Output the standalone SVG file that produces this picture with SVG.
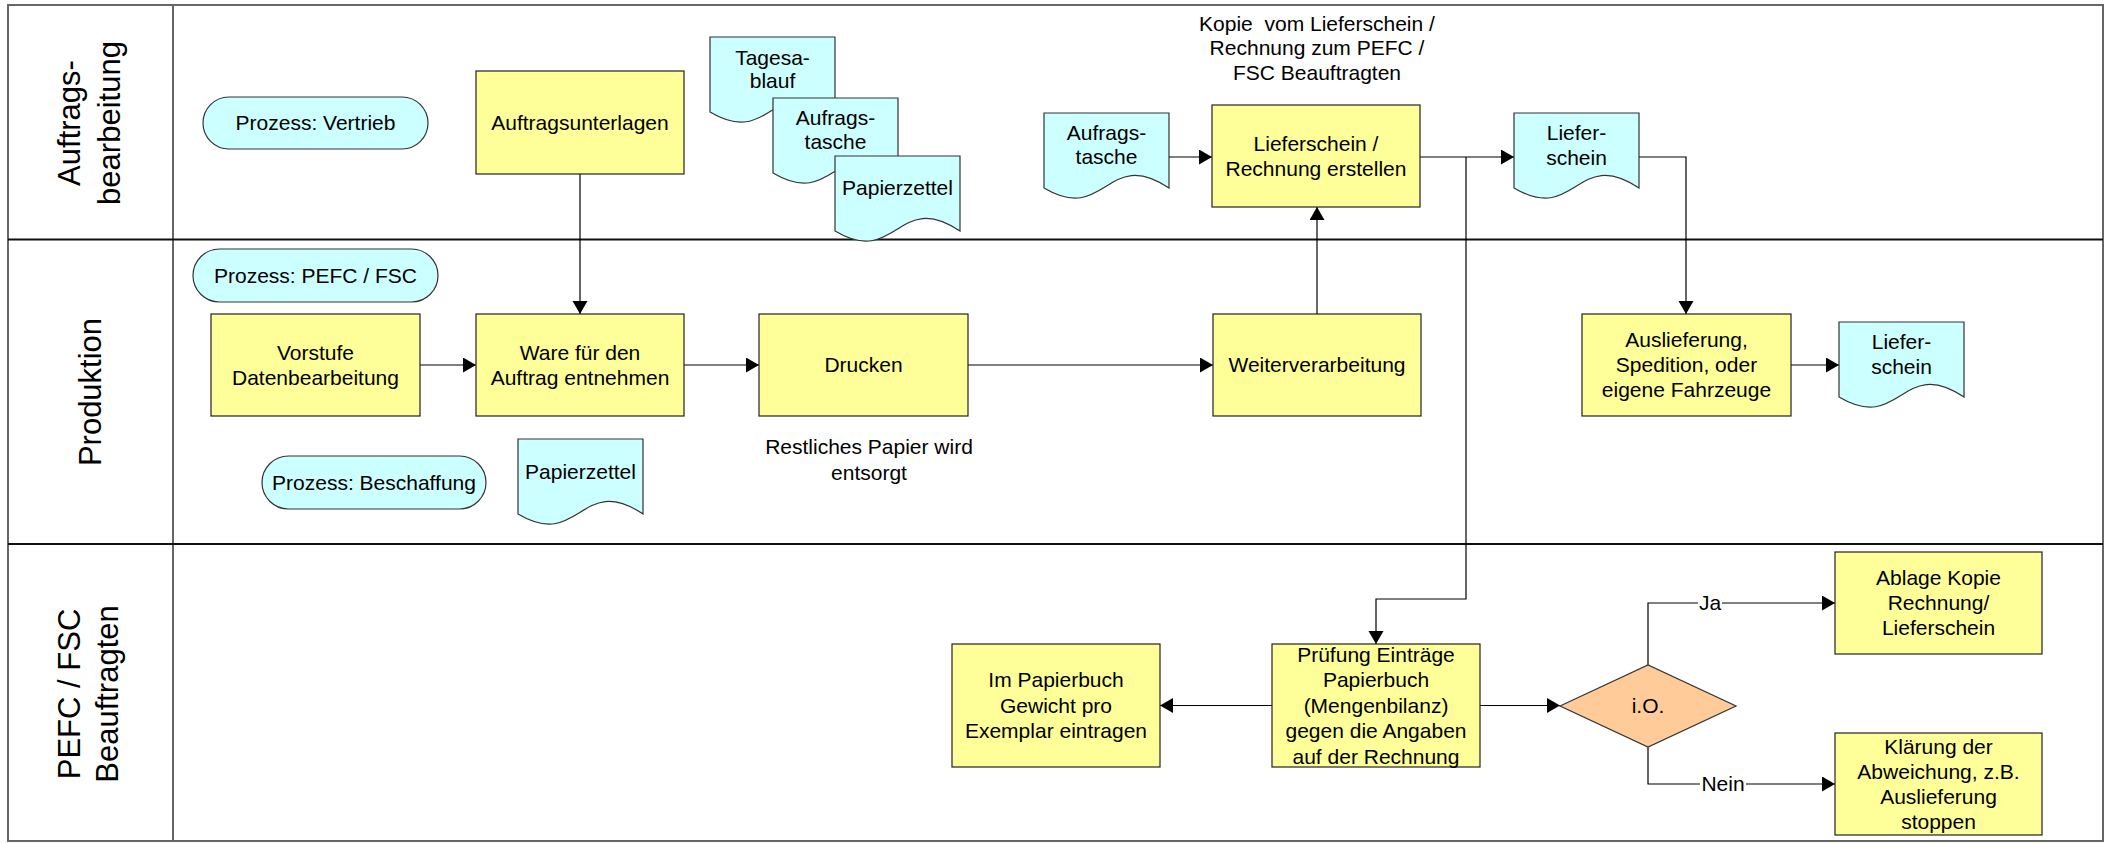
<svg xmlns="http://www.w3.org/2000/svg" width="2109" height="843" viewBox="0 0 2109 843">
<style>
text{font-family:"Liberation Sans",Arial,sans-serif;font-size:21px;fill:#000;text-anchor:middle}
.lane{font-size:31px}
.box{fill:#FFFF99;stroke:#222;stroke-width:1.2}
.cy{fill:#CCFFFF;stroke:#333;stroke-width:1.2}
.dia{fill:#FFCC99;stroke:#333;stroke-width:1.2}
.frame{fill:none;stroke:#666;stroke-width:2}
.div{stroke:#111;stroke-width:1.8}
.c{fill:none;stroke:#000;stroke-width:1.2}
.ca{fill:none;stroke:#000;stroke-width:1.2;marker-end:url(#arr)}
.pre{white-space:pre}
</style>
<defs>
<marker id="arr" markerUnits="userSpaceOnUse" markerWidth="14" markerHeight="16" refX="13" refY="7.5" orient="auto">
<path d="M0,0 L13,7.5 L0,15 Z" fill="#000"/>
</marker>
<path id="doc" d="M0,0 H125 V75 C62.5,33 62.5,112 0,75 Z"/>
</defs>
<rect width="2109" height="843" fill="#fff"/>
<g id="lanes">
<rect class="frame" x="8" y="5" width="2095" height="836"/>
<line class="frame" x1="173" y1="5" x2="173" y2="841"/>
<line class="div" x1="8" y1="239.5" x2="2103" y2="239.5"/>
<line class="div" x1="8" y1="544" x2="2103" y2="544"/>
<text class="lane" transform="translate(80,123) rotate(-90)">Auftrags-</text>
<text class="lane" transform="translate(120,123) rotate(-90)">bearbeitung</text>
<text class="lane" transform="translate(101,392) rotate(-90)">Produktion</text>
<text class="lane" transform="translate(80,694) rotate(-90)">PEFC / FSC</text>
<text class="lane" transform="translate(118,694) rotate(-90)">Beauftragten</text>
</g>
<g id="connectors">
<path class="ca" d="M580,174 V314"/>
<path class="ca" d="M420,365 H476"/>
<path class="ca" d="M684,365 H759"/>
<path class="ca" d="M968,365 H1213"/>
<path class="ca" d="M1317,314 V207"/>
<path class="ca" d="M1167,157 H1212"/>
<path class="ca" d="M1420,157 H1514"/>
<path class="ca" d="M1466,157 V599 H1376 V644"/>
<path class="ca" d="M1639,157 H1686 V314"/>
<path class="ca" d="M1791,365 H1839"/>
<path class="ca" d="M1272,705.5 H1160"/>
<path class="ca" d="M1480,705.5 H1560"/>
<path class="ca" d="M1648,665 V603 H1835"/>
<path class="ca" d="M1648,747 V784 H1835"/>
<rect x="1698" y="592" width="24" height="22" fill="#fff"/>
<text x="1710" y="610">Ja</text>
<rect x="1700" y="773" width="46" height="22" fill="#fff"/>
<text x="1723" y="791">Nein</text>
</g>
<g id="n-vertrieb"><rect class="cy" x="203" y="97" width="225" height="52" rx="26"/><text x="315.5" y="130">Prozess: Vertrieb</text></g>
<g id="n-auftragsunterlagen"><rect class="box" x="476" y="71" width="208" height="103"/><text x="580" y="130">Auftragsunterlagen</text></g>
<g id="n-tagesablauf"><use href="#doc" class="cy" x="710" y="37"/><text x="772.5" y="65">Tagesa-</text><text x="772.5" y="88">blauf</text></g>
<g id="n-auftragstasche1"><use href="#doc" class="cy" x="773" y="98"/><text x="835.5" y="125">Aufrags-</text><text x="835.5" y="149">tasche</text></g>
<g id="n-papierzettel1"><use href="#doc" class="cy" x="835" y="156"/><text x="897.5" y="195">Papierzettel</text></g>
<g id="n-kopie"><text class="pre" x="1317" y="31">Kopie  vom Lieferschein /</text><text x="1317" y="55">Rechnung zum PEFC /</text><text x="1317" y="80">FSC Beauftragten</text></g>
<g id="n-auftragstasche2"><use href="#doc" class="cy" x="1044" y="113"/><text x="1106.5" y="140">Aufrags-</text><text x="1106.5" y="164">tasche</text></g>
<g id="n-lieferschein-erstellen"><rect class="box" x="1212" y="105" width="208" height="102"/><text x="1316" y="150.5">Lieferschein /</text><text x="1316" y="175.5">Rechnung erstellen</text></g>
<g id="n-lieferschein1"><use href="#doc" class="cy" x="1514" y="113"/><text x="1576.5" y="140">Liefer-</text><text x="1576.5" y="165">schein</text></g>
<g id="n-pefc"><rect class="cy" x="193" y="249" width="245" height="53" rx="26.5"/><text x="315.5" y="283">Prozess: PEFC / FSC</text></g>
<g id="n-vorstufe"><rect class="box" x="211" y="314" width="209" height="102"/><text x="315.5" y="359.5">Vorstufe</text><text x="315.5" y="384.5">Datenbearbeitung</text></g>
<g id="n-ware"><rect class="box" x="476" y="314" width="208" height="102"/><text x="580" y="359.5">Ware für den</text><text x="580" y="384.5">Auftrag entnehmen</text></g>
<g id="n-drucken"><rect class="box" x="759" y="314" width="209" height="102"/><text x="863.5" y="372">Drucken</text></g>
<g id="n-restlich"><text x="869" y="454">Restliches Papier wird</text><text x="869" y="480">entsorgt</text></g>
<g id="n-weiter"><rect class="box" x="1213" y="314" width="208" height="102"/><text x="1317" y="372">Weiterverarbeitung</text></g>
<g id="n-beschaffung"><rect class="cy" x="262" y="456" width="224" height="53" rx="26.5"/><text x="374" y="490">Prozess: Beschaffung</text></g>
<g id="n-papierzettel2"><use href="#doc" class="cy" x="518" y="439"/><text x="580.5" y="479">Papierzettel</text></g>
<g id="n-auslieferung"><rect class="box" x="1582" y="314" width="209" height="102"/><text x="1686.5" y="347">Auslieferung,</text><text x="1686.5" y="372">Spedition, oder</text><text x="1686.5" y="397">eigene Fahrzeuge</text></g>
<g id="n-lieferschein2"><use href="#doc" class="cy" x="1839" y="322"/><text x="1901.5" y="349">Liefer-</text><text x="1901.5" y="374">schein</text></g>
<g id="n-papierbuch"><rect class="box" x="952" y="644" width="208" height="123"/><text x="1056" y="687">Im Papierbuch</text><text x="1056" y="712.5">Gewicht pro</text><text x="1056" y="738">Exemplar eintragen</text></g>
<g id="n-pruefung"><rect class="box" x="1272" y="644" width="208" height="123"/><text x="1376" y="661.5">Prüfung Einträge</text><text x="1376" y="687">Papierbuch</text><text x="1376" y="712.5">(Mengenbilanz)</text><text x="1376" y="738">gegen die Angaben</text><text x="1376" y="763.5">auf der Rechnung</text></g>
<g id="n-io"><path class="dia" d="M1560,706 L1648,665 L1736,706 L1648,747 Z"/><text x="1648" y="713">i.O.</text></g>
<g id="n-ablage"><rect class="box" x="1835" y="552" width="207" height="102"/><text x="1938.5" y="585">Ablage Kopie</text><text x="1938.5" y="610">Rechnung/</text><text x="1938.5" y="635">Lieferschein</text></g>
<g id="n-klaerung"><rect class="box" x="1835" y="733" width="207" height="102"/><text x="1938.5" y="753.5">Klärung der</text><text x="1938.5" y="778.5">Abweichung, z.B.</text><text x="1938.5" y="803.5">Auslieferung</text><text x="1938.5" y="828.5">stoppen</text></g>
</svg>
